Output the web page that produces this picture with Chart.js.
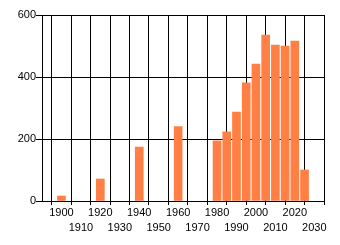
<!DOCTYPE html>
<html>
<head>
<meta charset="utf-8">
<script src="https://cdn.jsdelivr.net/npm/chart.js@4"></script>
<style>
  html, body { margin: 0; padding: 0; background: #fff; }
  #wrap { width: 340px; height: 245px; position: relative; }
</style>
</head>
<body>
<div id="wrap"><canvas id="chart"></canvas></div>
<script>
const years = [1900, 1920, 1940, 1960, 1980, 1985, 1990, 1995, 2000, 2005, 2010, 2015, 2020, 2025];
const counts = [16, 71, 174, 240, 194, 223, 287, 381, 442, 535, 503, 500, 516, 100];
const yTicks = [0, 200, 400, 600];

const barColor = '#ff7f45';
const font = { family: 'Liberation Sans, Arial, sans-serif', size: 11, lineHeight: 1.42 };

new Chart(document.getElementById('chart'), {
    type: 'bar',
    data: {
        datasets: [{
            data: years.map((y, i) => ({ x: y, y: counts[i] })),
            backgroundColor: barColor,
            borderWidth: 0,
            barThickness: 8
        }]
    },
    options: {
        responsive: true,
        maintainAspectRatio: false,
        animation: false,
        layout: { padding: { top: 15, right: 16, left: 0, bottom: 0 } },
        plugins: { legend: { display: false }, tooltip: { enabled: false } },
        scales: {
            x: {
                type: 'linear',
                min: 1890,
                max: 2035,
                offset: false,
                grid: { color: '#000', lineWidth: 1, tickLength: 4, drawTicks: true },
                border: { color: '#000', width: 1 },
                ticks: {
                    stepSize: 10,
                    includeBounds: false,
                    autoSkip: false,
                    maxRotation: 0,
                    minRotation: 0,
                    padding: 0,
                    color: '#000',
                    font,
                    callback: v => {
                        if (v < 1900) return '';
                        return ((v - 1900) / 10) % 2 === 0 ? String(v) : ['', String(v)];
                    }
                },
                afterFit: s => { s.height = 44; }
            },
            y: {
                min: 0,
                max: 600,
                grid: { color: '#000', lineWidth: 1, tickLength: 6 },
                border: { color: '#000', width: 1 },
                afterBuildTicks: s => { s.ticks = yTicks.map(v => ({ value: v })); },
                ticks: { padding: 0, color: '#000', font },
                afterFit: s => { s.width = 42; }
            }
        }
    }
});
</script>
</body>
</html>
